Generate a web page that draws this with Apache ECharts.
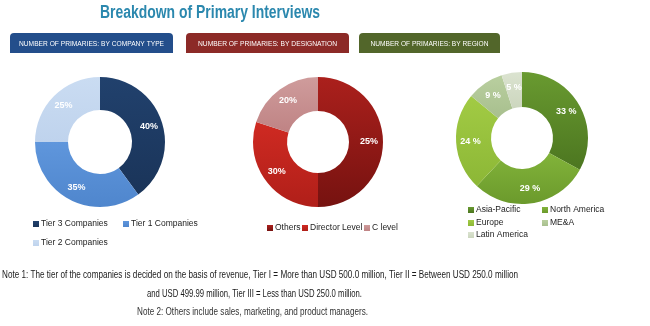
<!DOCTYPE html>
<html><head><meta charset="utf-8">
<script src="https://cdn.jsdelivr.net/npm/echarts@6/dist/echarts.min.js"></script>
<style>html,body{margin:0;padding:0;background:#fff}#c{width:650px;height:326px}</style>
</head><body><div id="c"></div>
<script>
// ---- data ----
const companyCats = ['Tier 3 Companies', 'Tier 1 Companies', 'Tier 2 Companies'];
const companyVals = [40, 35, 25];
const companyLabels = ['40%', '35%', '25%'];

const designationCats = ['Others', 'Director Level', 'C level'];
const designationVals = [50, 30, 20];
const designationLabels = ['25%', '30%', '20%'];

const regionCats = ['Asia-Pacific', 'North America', 'Europe', 'ME&A', 'Latin America'];
const regionVals = [33, 29, 24, 9, 5];
const regionLabels = ['33 %', '29 %', '24 %', '9 %', '5 %'];

const titleText = 'Breakdown of Primary Interviews';
const headerTexts = ['NUMBER OF PRIMARIES: BY COMPANY TYPE', 'NUMBER OF PRIMARIES: BY DESIGNATION', 'NUMBER OF PRIMARIES: BY REGION'];
const note1a = 'Note 1: The tier of the companies is decided on the basis of revenue, Tier I = More than USD 500.0 million, Tier II = Between USD 250.0 million';
const note1b = 'and USD 499.99 million, Tier III = Less than USD 250.0 million.';
const note2 = 'Note 2: Others include sales, marketing, and product managers.';

// ---- styles ----
function grad(a, b) {
  return new echarts.graphic.LinearGradient(0, 0, 0, 1, [{offset: 0, color: a}, {offset: 1, color: b}]);
}
const companyColors = [grad('#21416d', '#1a3459'), grad('#5f96dc', '#4f86cd'), grad('#cadcf2', '#bfd3ed')];
const designationColors = [grad('#ab201c', '#761210'), grad('#cf2a22', '#b01f19'), grad('#cf9c9c', '#bf8384')];
const regionColors = [grad('#699a30', '#4c7620'), grad('#82b33a', '#6b9a2c'), grad('#a2cb44', '#8cb736'), grad('#b9cf9f', '#a8bf8e'), grad('#dbe3d0', '#ccd6be')];

function pieSeries(name, cats, vals, labels, colors, center, radius) {
  return {
    type: 'pie', name: name, center: center, radius: radius, startAngle: 90, clockwise: true,
    silent: true, animation: false,
    label: {
      show: true, position: 'inside', color: '#fff', fontSize: 9, fontWeight: 'bold',
      fontFamily: 'Liberation Sans', formatter: p => labels[p.dataIndex]
    },
    labelLine: {show: false},
    itemStyle: {borderWidth: 0},
    data: cats.map((c, i) => ({name: c, value: vals[i], itemStyle: {color: colors[i]}}))
  };
}

const legendText = {fontSize: 8.5, color: '#222', fontFamily: 'Liberation Sans', lineHeight: 10, padding: [0, 0, 0, -3]};
function leg(name, x, y) {
  return {data: [name], left: x, top: y - 5, padding: 0, orient: 'horizontal', icon: 'rect',
    itemWidth: 6, itemHeight: 6, itemGap: 0, textStyle: legendText, selectedMode: false};
}

// measure to fit a target width (compressed fonts in the original)
const mctx = document.createElement('canvas').getContext('2d');
function fitText(text, font, target, x, y, fill) {
  mctx.font = font;
  const w = mctx.measureText(text).width;
  return {type: 'text', x: x, y: y, scaleX: target / w, silent: true,
    style: {text: text, fill: fill, font: font, align: 'center', verticalAlign: 'middle'}};
}

const chart = echarts.init(document.getElementById('c'), null, {renderer: 'canvas'});

const headers = [
  {x: 10, w: 163, color: '#234e8b', tw: 145},
  {x: 186, w: 163, color: '#8c2a27', tw: 139},
  {x: 359, w: 141, color: '#52662a', tw: 118}
];
const graphics = [];
headers.forEach((h, i) => {
  graphics.push({type: 'rect', left: h.x, top: 33, shape: {width: h.w, height: 20, r: [4, 4, 0, 0]}, style: {fill: h.color}, silent: true});
  graphics.push(fitText(headerTexts[i], '7.5px "Liberation Sans"', h.tw, h.x + h.w / 2, 43.5, '#fff'));
});
graphics.push(fitText(titleText, 'bold 18px "Liberation Sans"', 220, 210, 13, '#2b88ae'));
graphics.push(fitText(note1a, '11px "Liberation Sans"', 516, 260, 275, '#1a1a1a'));
graphics.push(fitText(note1b, '11px "Liberation Sans"', 215, 254.5, 294, '#1a1a1a'));
graphics.push(fitText(note2, '10px "Liberation Sans"', 231, 252.5, 312, '#333'));

chart.setOption({
  animation: false,
  backgroundColor: '#fff',
  legend: [
    leg(companyCats[0], 33, 224), leg(companyCats[1], 123, 224), leg(companyCats[2], 33, 243),
    leg(designationCats[0], 267, 228), leg(designationCats[1], 302, 228), leg(designationCats[2], 364, 228),
    leg(regionCats[0], 468, 210), leg(regionCats[1], 542, 210), leg(regionCats[2], 468, 223),
    leg(regionCats[3], 542, 223), leg(regionCats[4], 468, 235)
  ],
  series: [
    pieSeries('company', companyCats, companyVals, companyLabels, companyColors, [100, 142], [32, 65]),
    pieSeries('designation', designationCats, designationVals, designationLabels, designationColors, [318, 142], [31, 65]),
    pieSeries('region', regionCats, regionVals, regionLabels, regionColors, [522, 138], [31, 66])
  ],
  graphic: graphics
});
</script></body></html>
